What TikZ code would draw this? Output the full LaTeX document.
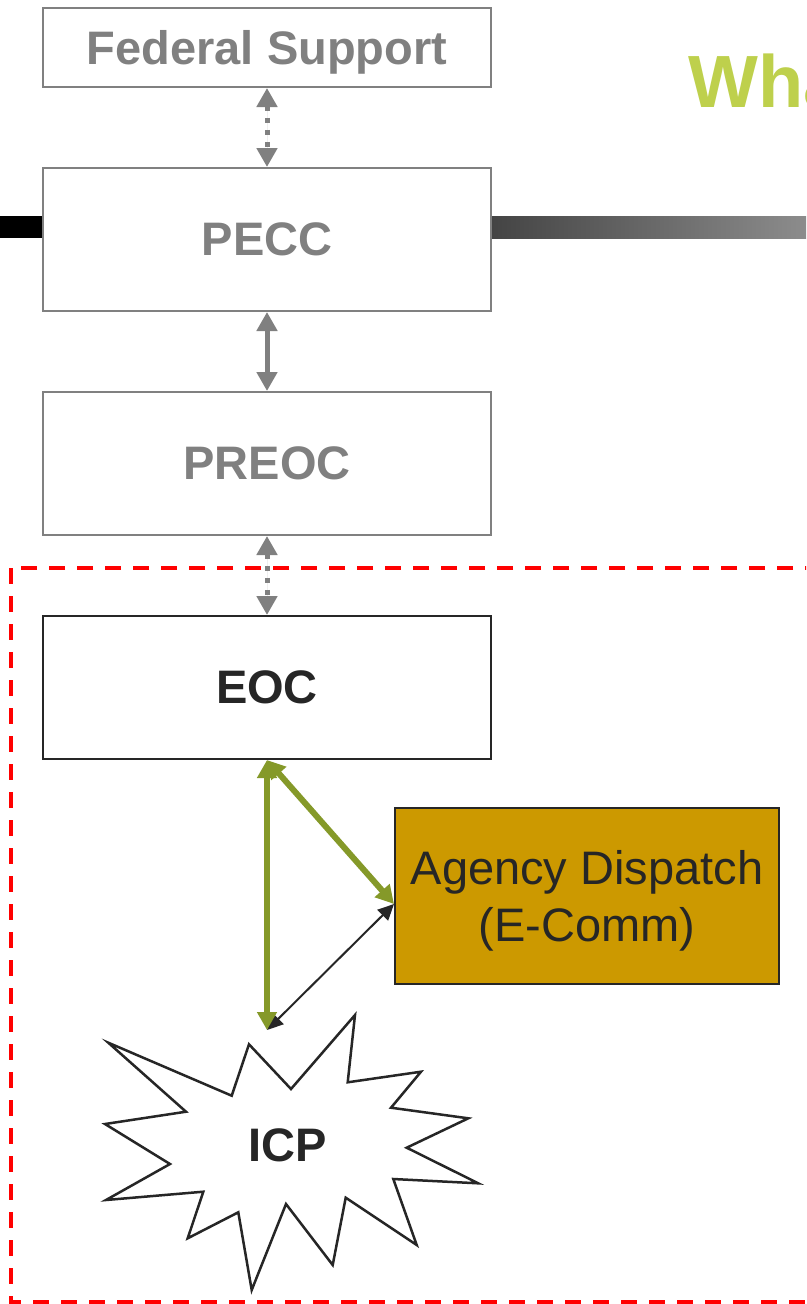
\documentclass[tikz,border=0pt]{standalone}
\usepackage{fontspec}
\setmainfont{Liberation Sans}
\usetikzlibrary{arrows.meta}
\definecolor{boxgray}{RGB}{128,128,128}
\definecolor{ink}{RGB}{38,38,38}
\definecolor{gold}{RGB}{204,153,0}
\definecolor{olive}{RGB}{133,153,41}
\definecolor{lime}{RGB}{190,208,76}
\definecolor{barleft}{RGB}{68,68,68}
\definecolor{barright}{RGB}{140,140,140}
\tikzset{
  graybox/.style={draw=boxgray, line width=2pt, fill=white, minimum width=448pt, inner sep=0pt,
    text=boxgray, font=\fontsize{47}{56}\selectfont\bfseries},
  darkbox/.style={draw=ink, line width=2pt, fill=white, minimum width=448pt, minimum height=143pt, inner sep=0pt,
    text=ink, font=\fontsize{47}{56}\selectfont\bfseries},
  grayarrow/.style={draw=boxgray, fill=boxgray, line width=5pt, {Triangle[length=19pt,width=20pt]}-{Triangle[length=19pt,width=20pt]}},
  dotline/.style={dash pattern=on 5pt off 7pt},
  greenarrow/.style={draw=olive, line width=6pt, {Triangle[length=18pt,width=19pt]}-{Triangle[length=18pt,width=19pt]}},
  blackarrow/.style={draw=ink, line width=2pt, {Triangle[length=16pt,width=15pt]}-{Triangle[length=16pt,width=15pt]}}
}
\begin{document}
\begin{tikzpicture}[x=1pt,y=-1pt]
\useasboundingbox (0,0) rectangle (806,1304);
\clip (0,0) rectangle (806,1304);
\fill[white] (0,0) rectangle (806,1304);
% bar
\fill[black] (0,216) rectangle (491,238);
\shade[left color=barleft, right color=barright] (491,216.5) rectangle (806,238.5);
% title
\node[anchor=base west, inner sep=0pt, text=lime, font=\fontsize{74}{80}\selectfont\bfseries] (title) at (688,107) {Wha};
% boxes
\node[graybox, minimum height=79pt, text depth=0pt] (fed) at (267,47.5) {Federal Support};
\node[graybox, minimum height=143pt] (pecc) at (267,239.5) {PECC};
\node[graybox, minimum height=143pt] (preoc) at (267,463.5) {PREOC};
% dashed region
\draw[red, line width=3.5pt, dash pattern=on 16pt off 12pt] (11,568) rectangle (830,1302);
\node[darkbox] (eoc) at (267,687.5) {EOC};
\node[draw=ink, line width=2pt, fill=gold, minimum width=384pt, minimum height=176pt, inner sep=0pt,
  text=ink, font=\fontsize{47}{57}\selectfont, align=center, text depth=0pt] (agency) at (587,896) {Agency Dispatch\\(E-Comm)};
% starburst
\draw[ink, line width=2.5pt, fill=white, line join=miter]
  (108.3,1042.7) -- (231.7,1095.7) -- (249,1044.3) -- (291,1089) -- (355,1015) -- (347.7,1082.3)
  -- (421,1071.7) -- (391,1107.7) -- (468.3,1118.3) -- (406.7,1147.7) -- (478.3,1183.3) -- (393.3,1179)
  -- (416.7,1245) -- (345.7,1197.7) -- (332.7,1265) -- (286,1204) -- (251.7,1290) -- (238.3,1212.3)
  -- (187.7,1238.3) -- (203.3,1191.7) -- (106,1200) -- (170,1164) -- (105,1124) -- (186,1111.7) -- cycle;
\node[inner sep=0pt, text=ink, font=\fontsize{47}{56}\selectfont\bfseries] (icp) at (288,1145) {ICP};
\coordinate (icptop) at (267,1030);
\coordinate (agw) at ([yshift=-8pt]agency.west);
% connectors
\draw[grayarrow, dotline] (fed.south) -- (pecc.north);
\draw[grayarrow] (pecc.south) -- (preoc.north);
\draw[grayarrow, dotline] (preoc.south) -- (eoc.north);
\draw[blackarrow] (agw) -- (icptop);
\draw[greenarrow] (eoc.south) -- (icptop);
\draw[greenarrow] (eoc.south) -- (agw);
\end{tikzpicture}
\end{document}
